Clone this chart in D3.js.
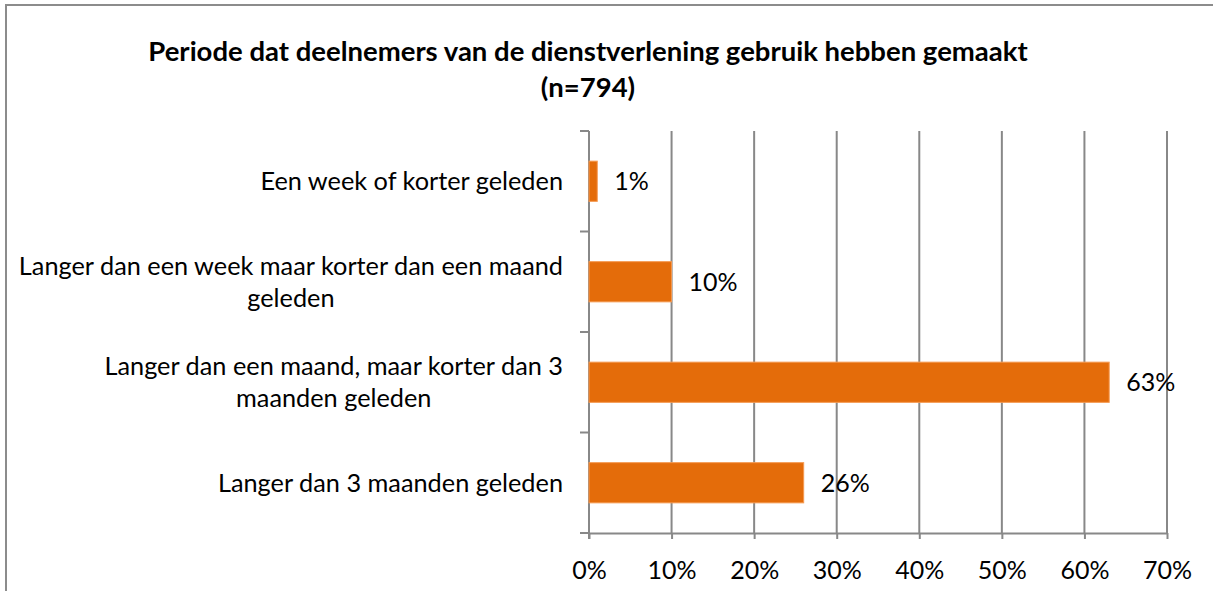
<!DOCTYPE html>
<html>
<head>
<meta charset="utf-8">
<script src="https://cdn.jsdelivr.net/npm/d3@7"></script>
<style>
  body { margin: 0; background: #fff; }
  text { font-family: Lato, "Open Sans", sans-serif; fill: #000; }
</style>
</head>
<body>
<div id="chart"></div>
<script>
// Data
const categories = [
  "Een week of korter geleden",
  "Langer dan een week maar korter dan een maand geleden",
  "Langer dan een maand, maar korter dan 3 maanden geleden",
  "Langer dan 3 maanden geleden"
];
const labelLines = [
  ["Een week of korter geleden"],
  ["Langer dan een week maar korter dan een maand", "geleden"],
  ["Langer dan een maand, maar korter dan 3", "maanden geleden"],
  ["Langer dan 3 maanden geleden"]
];
const values = [0.01, 0.10, 0.63, 0.26];
const xTicks = [0, 0.1, 0.2, 0.3, 0.4, 0.5, 0.6, 0.7];
const titleLines = ["Periode dat deelnemers van de dienstverlening gebruik hebben gemaakt", "(n=794)"];

const width = 1213, height = 591;
const margin = { top: 131, right: 46, bottom: 58, left: 589 };

const svg = d3.select('#chart')
  .append('svg')
  .attr('width', width)
  .attr('height', height);

// Chart border
svg.append('rect')
  .attr('x', 6).attr('y', 5)
  .attr('width', width + 20).attr('height', height + 20)
  .attr('fill', 'none')
  .attr('stroke', '#8c8c8c')
  .attr('stroke-width', 2);

// Title
svg.append('g')
  .selectAll('text')
  .data(titleLines)
  .join('text')
  .attr('x', 588)
  .attr('y', (d, i) => 61 + i * 36)
  .attr('text-anchor', 'middle')
  .attr('font-size', '27.5px')
  .attr('font-weight', 'bold')
  .text(d => d);

const x = d3.scaleLinear()
  .domain([0, 0.7])
  .range([margin.left, width - margin.right]);

const y = d3.scaleBand()
  .domain(categories)
  .range([margin.top, height - margin.bottom])
  .paddingInner(0.6)
  .paddingOuter(0.3);

const plotBottom = height - margin.bottom;
const gridColor = '#888888';

// Gridlines
svg.append('g')
  .selectAll('line')
  .data(xTicks.slice(1))
  .join('line')
  .attr('x1', d => x(d)).attr('x2', d => x(d))
  .attr('y1', margin.top).attr('y2', plotBottom)
  .attr('stroke', gridColor)
  .attr('stroke-width', 2);

// X axis
const xAxis = svg.append('g')
  .attr('transform', `translate(0,${plotBottom})`)
  .call(d3.axisBottom(x).tickValues(xTicks).tickFormat(d3.format('.0%')).tickSize(6).tickSizeOuter(0));
xAxis.select('.domain').attr('stroke', gridColor).attr('stroke-width', 2);
xAxis.selectAll('.tick line').attr('stroke', gridColor).attr('stroke-width', 2);
xAxis.selectAll('.tick text')
  .attr('font-size', '25px')
  .attr('font-family', 'Lato, sans-serif')
  .attr('fill', '#000')
  .attr('dy', null)
  .attr('y', 46);

// Y axis line and ticks at band boundaries
const [y0, y1] = y.range();
const boundaries = d3.range(categories.length + 1).map(i => y0 + i * (y1 - y0) / categories.length);
svg.append('line')
  .attr('x1', margin.left).attr('x2', margin.left)
  .attr('y1', margin.top).attr('y2', plotBottom + 6)
  .attr('stroke', gridColor).attr('stroke-width', 2);
svg.append('g')
  .selectAll('line')
  .data(boundaries)
  .join('line')
  .attr('x1', margin.left - 9).attr('x2', margin.left)
  .attr('y1', d => d).attr('y2', d => d)
  .attr('stroke', gridColor).attr('stroke-width', 2);

// Bars
svg.append('g')
  .selectAll('rect')
  .data(values)
  .join('rect')
  .attr('x', x(0))
  .attr('y', (d, i) => y(categories[i]))
  .attr('width', d => x(d) - x(0))
  .attr('height', y.bandwidth())
  .attr('fill', '#e46c0a')
  .attr('stroke', '#f59a52')
  .attr('stroke-width', 1);

// Value labels
svg.append('g')
  .selectAll('text')
  .data(values)
  .join('text')
  .attr('x', d => x(d) + 17)
  .attr('y', (d, i) => y(categories[i]) + y.bandwidth() / 2 + 9)
  .attr('font-size', '25px')
  .text(d => d3.format('.0%')(d));

// Category labels (wrapped, centred block, right edge near axis)
const labelRight = margin.left - 26;
const catG = svg.append('g');
labelLines.forEach((lines, i) => {
  const cy = y(categories[i]) + y.bandwidth() / 2;
  const t = catG.append('text')
    .attr('font-size', '25.3px')
    .attr('text-anchor', 'middle');
  lines.forEach((line, j) => {
    t.append('tspan')
      .attr('y', cy + 9 + (j - (lines.length - 1) / 2) * 32)
      .text(line);
  });
  let maxW = 0;
  t.selectAll('tspan').each(function () {
    maxW = Math.max(maxW, this.getComputedTextLength());
  });
  t.selectAll('tspan').attr('x', labelRight - maxW / 2);
});
</script>
</body>
</html>
